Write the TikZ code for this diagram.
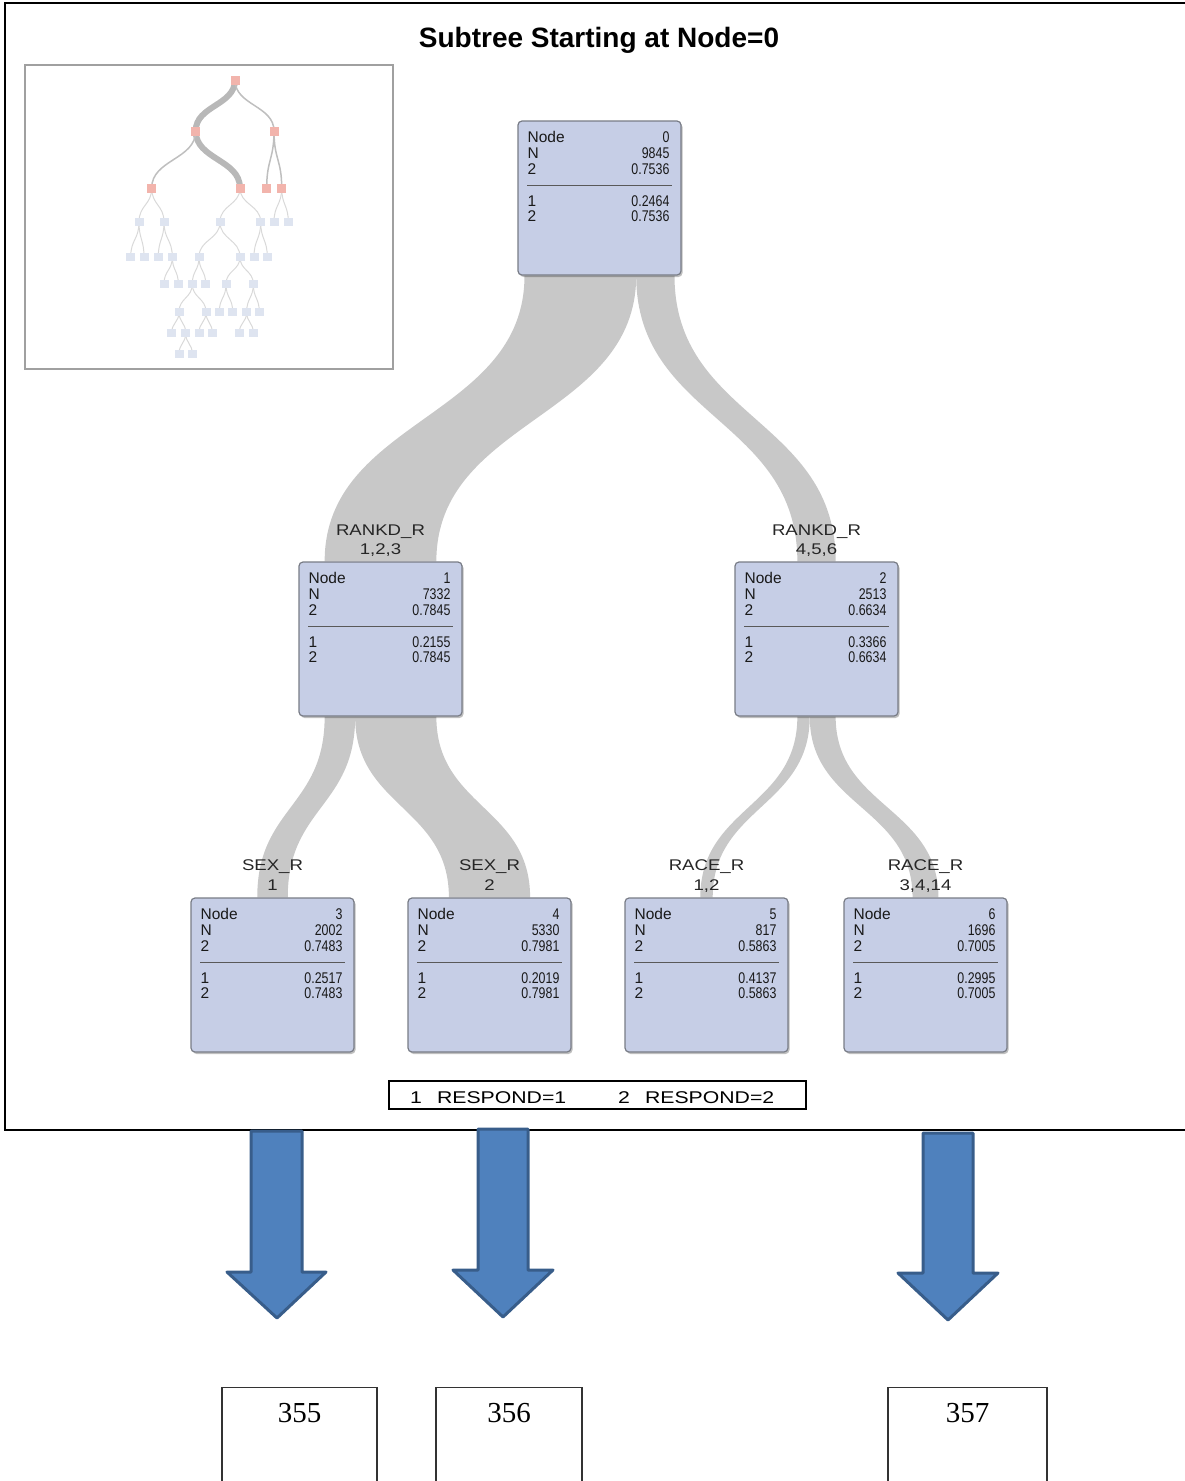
\documentclass[tikz,border=0pt]{standalone}
\usepackage{fontspec}
\newfontfamily\sasfont{Liberation Sans}
\newfontfamily\valfont[FakeStretch=0.8]{Liberation Sans}
\newfontfamily\labfont[FakeStretch=1.2]{Liberation Sans}
\newfontfamily\legfont[FakeStretch=1.25]{Liberation Sans}
\newfontfamily\numfont{Liberation Serif}
\usetikzlibrary{calc,backgrounds,shadows}

\definecolor{boxfill}{RGB}{198,206,230}
\definecolor{boxline}{RGB}{120,124,134}
\definecolor{bandgray}{RGB}{200,200,200}
\definecolor{insetline}{RGB}{160,160,160}
\definecolor{hotnode}{RGB}{242,180,172}
\definecolor{coldnode}{RGB}{222,228,240}
\definecolor{arrowfill}{RGB}{79,129,189}
\definecolor{arrowline}{RGB}{56,93,138}

\tikzset{
  tbox/.style={draw=boxline, fill=boxfill, rounded corners=4pt, line width=1.2pt,
    minimum width=163pt, minimum height=154pt, inner sep=0pt,
    drop shadow={shadow xshift=1.5pt, shadow yshift=-2pt, fill=black, opacity=.25}},
  lt/.style={anchor=base west, inner sep=0pt, text=black!90, font=\sasfont\fontsize{15.5}{15.5}\selectfont},
  rt/.style={anchor=base east, inner sep=0pt, text=black!90, font=\valfont\fontsize{15.5}{15.5}\selectfont},
  sepline/.style={draw=black!65, line width=1pt},
  lab/.style={anchor=base, inner sep=0pt, text=black!85, font=\labfont\fontsize{15.5}{15.5}\selectfont},
  leg/.style={anchor=base west, inner sep=0pt, font=\legfont\fontsize{17}{17}\selectfont},
  hot/.style={fill=hotnode, minimum width=9pt, minimum height=9pt, inner sep=0pt},
  cold/.style={fill=coldnode, minimum width=9pt, minimum height=8pt, inner sep=0pt},
  ithin/.style={draw=black!15, line width=1pt},
  imid/.style={draw=black!25, line width=1.5pt},
  ithick/.style={draw=black!28, line width=6pt},
  barrow/.style={fill=arrowfill, draw=arrowline, line width=3pt, line join=round},
  obox/.style={draw=black!80, line width=1.2pt, minimum width=155pt, minimum height=150pt, anchor=north, inner sep=0pt},
  onum/.style={inner sep=0pt, font=\numfont\fontsize{29}{30}\selectfont},
}

% node box contents: name, id, N, predicted share, share of 1, share of 2
\newcommand\fillnode[6]{%
  \node[lt] (#1-l1) at ($(#1.north west)+(10,22)$) {Node};
  \node[rt] (#1-v1) at ($(#1.north east)+(-12,22)$) {#2};
  \node[lt] (#1-l2) at ($(#1.north west)+(10,38)$) {N};
  \node[rt] (#1-v2) at ($(#1.north east)+(-12,38)$) {#3};
  \node[lt] (#1-l3) at ($(#1.north west)+(10,54)$) {2};
  \node[rt] (#1-v3) at ($(#1.north east)+(-12,54)$) {#4};
  \draw[sepline] ($(#1.north west)+(10,65)$) -- ($(#1.north east)+(-10,65)$);
  \node[lt] (#1-l4) at ($(#1.north west)+(10,86)$) {1};
  \node[rt] (#1-v4) at ($(#1.north east)+(-12,86)$) {#5};
  \node[lt] (#1-l5) at ($(#1.north west)+(10,101)$) {2};
  \node[rt] (#1-v5) at ($(#1.north east)+(-12,101)$) {#6};
}

% flow band: parent, child, left offset at parent (from its centre), width
\newcommand\band[4]{%
  \fill[bandgray] let \p1=(#1.south), \p2=(#2.north) in
    (\x1+#3,\y1) .. controls (\x1+#3,0.5*\y1+0.5*\y2) and (\x2-#4/2,0.5*\y1+0.5*\y2) .. (\x2-#4/2,\y2)
    -- (\x2+#4/2,\y2)
    .. controls (\x2+#4/2,0.5*\y1+0.5*\y2) and (\x1+#3+#4,0.5*\y1+0.5*\y2) .. (\x1+#3+#4,\y1) -- cycle;
}

% overview edge: style, parent, child
\newcommand\iedge[3]{%
  \draw[#1] let \p1=(#2.center), \p2=(#3.center) in
    (\p1) .. controls (\x1,0.5*\y1+0.5*\y2) and (\x2,0.5*\y1+0.5*\y2) .. (\p2);
}

\begin{document}
\begin{tikzpicture}[x=1pt,y=-1pt]
\useasboundingbox (0,0) rectangle (1185,1481);

% outer frame of the tree output
\draw[black, line width=2pt] (1185,3) -- (5,3) -- (5,1130) -- (1185,1130);

\node[font=\sasfont\bfseries\fontsize{28}{28}\selectfont, inner sep=0pt] (title) at (599,40) {Subtree Starting at Node=0};

% ---------- overview of the whole tree ----------
\node[draw=insetline, line width=2pt, minimum width=368pt, minimum height=304pt, inner sep=0pt] (inset) at (209,217) {};
\foreach \n/\x/\y in {r/235/80, a/195.7/131, b/274/131, c/151.7/188, d/240/188, e/266.7/188, f/281.7/188}
  {\node[hot] (\n) at (\x,\y) {};}
\foreach \n/\x/\y in {g1/139/222, g2/164/222, g3/220/222, g4/260.7/222, g5/274/222, g6/288.3/222,
  h1/130.7/257, h2/144/257, h3/158.3/257, h4/172.3/257, h5/199/257, h6/240/257, h7/254/257, h8/267.3/257,
  k1/164/284, k2/178.3/284, k3/192.3/284, k4/205.7/284, k5/226/284, k6/253.3/284,
  m1/179/312, m2/206/312, m3/219.3/312, m4/232.7/312, m5/246.7/312, m6/259.3/312,
  p1/171.7/333, p2/185.7/333, p3/199/333, p4/212.3/333, p5/239.3/333, p6/253.3/333,
  q1/179/354, q2/192.3/354}
  {\node[cold] (\n) at (\x,\y) {};}
\begin{scope}[on background layer]
  \iedge{ithick}{r}{a}
  \iedge{ithick}{a}{d}
  \foreach \s/\t in {r/b, a/c, b/e, b/f}
    {\iedge{imid}{\s}{\t}}
  \foreach \s/\t in {c/g1, c/g2, d/g3, d/g4, f/g5, f/g6,
    g1/h1, g1/h2, g2/h3, g2/h4, g3/h5, g3/h6, g4/h7, g4/h8,
    h4/k1, h4/k2, h5/k3, h5/k4, h6/k5, h6/k6,
    k3/m1, k3/m2, k5/m3, k5/m4, k6/m5, k6/m6,
    m1/p1, m1/p2, m2/p3, m2/p4, m5/p5, m5/p6,
    p2/q1, p2/q2}
    {\iedge{ithin}{\s}{\t}}
\end{scope}

% ---------- tree nodes ----------
\node[tbox] (n0) at (599.5,198) {};
\node[tbox] (n1) at (380.5,639) {};
\node[tbox] (n2) at (816.5,639) {};
\node[tbox] (n3) at (272.5,975) {};
\node[tbox] (n4) at (489.5,975) {};
\node[tbox] (n5) at (706.5,975) {};
\node[tbox] (n6) at (925.5,975) {};

\fillnode{n0}{0}{9845}{0.7536}{0.2464}{0.7536}
\fillnode{n1}{1}{7332}{0.7845}{0.2155}{0.7845}
\fillnode{n2}{2}{2513}{0.6634}{0.3366}{0.6634}
\fillnode{n3}{3}{2002}{0.7483}{0.2517}{0.7483}
\fillnode{n4}{4}{5330}{0.7981}{0.2019}{0.7981}
\fillnode{n5}{5}{817}{0.5863}{0.4137}{0.5863}
\fillnode{n6}{6}{1696}{0.7005}{0.2995}{0.7005}

% flow bands, width proportional to N
\begin{scope}[on background layer]
  \band{n0}{n1}{-75}{111.7}
  \band{n0}{n2}{36.7}{38.3}
  \band{n1}{n3}{-55.85}{30.5}
  \band{n1}{n4}{-25.35}{81.2}
  \band{n2}{n5}{-19.15}{12.4}
  \band{n2}{n6}{-6.75}{25.9}
\end{scope}

% split labels
\node[lab] (s1a) at ($(n1.north)+(0,-25.5)$) {RANKD\_R};
\node[lab] (s1b) at ($(n1.north)+(0,-6.5)$) {1,2,3};
\node[lab] (s2a) at ($(n2.north)+(0,-25.5)$) {RANKD\_R};
\node[lab] (s2b) at ($(n2.north)+(0,-6.5)$) {4,5,6};
\node[lab] (s3a) at ($(n3.north)+(0,-26.5)$) {SEX\_R};
\node[lab] (s3b) at ($(n3.north)+(0,-6.5)$) {1};
\node[lab] (s4a) at ($(n4.north)+(0,-26.5)$) {SEX\_R};
\node[lab] (s4b) at ($(n4.north)+(0,-6.5)$) {2};
\node[lab] (s5a) at ($(n5.north)+(0,-26.5)$) {RACE\_R};
\node[lab] (s5b) at ($(n5.north)+(0,-6.5)$) {1,2};
\node[lab] (s6a) at ($(n6.north)+(0,-26.5)$) {RACE\_R};
\node[lab] (s6b) at ($(n6.north)+(0,-6.5)$) {3,4,14};

% legend
\node[draw=black, line width=1.3pt, minimum width=417pt, minimum height=28pt, inner sep=0pt] (legend) at (597.5,1095) {};
\node[leg] (leg1) at (410,1103) {1\hspace{15pt}RESPOND=1};
\node[leg] (leg2) at (618,1103) {2\hspace{15pt}RESPOND=2};

% ---------- block arrows and result boxes ----------
\draw[barrow] (251,1131) -- (302,1131) -- (302,1272) -- (326,1272) -- (277,1318) -- (227,1272) -- (251,1272) -- cycle;
\draw[barrow] (478,1129) -- (528,1129) -- (528,1270) -- (553,1270) -- (503,1317) -- (453,1270) -- (478,1270) -- cycle;
\draw[barrow] (923,1133) -- (973,1133) -- (973,1273) -- (998,1273) -- (948,1320) -- (898,1273) -- (923,1273) -- cycle;

\node[obox] (o355) at (299.5,1387) {};
\node[obox, minimum width=146pt] (o356) at (509,1387) {};
\node[obox, minimum width=159pt] (o357) at (967.5,1387) {};
\node[onum] (t355) at ($(o355.north)+(0,26)$) {355};
\node[onum] (t356) at ($(o356.north)+(0,26)$) {356};
\node[onum] (t357) at ($(o357.north)+(0,26)$) {357};
\end{tikzpicture}
\end{document}
